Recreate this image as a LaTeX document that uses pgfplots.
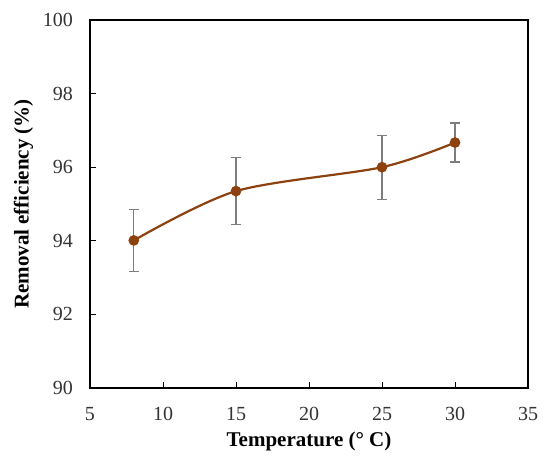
\documentclass[border=0pt]{standalone}
\usepackage{fontspec}
\setmainfont{Liberation Serif}
\usepackage{pgfplots}
\pgfplotsset{compat=1.18}
\definecolor{brn}{RGB}{140,65,15}
\definecolor{ebar}{RGB}{125,125,125}
\begin{document}
\begin{tikzpicture}
\begin{axis}[
  at={(0,0)}, anchor=south west,
  scale only axis,
  width=219pt, height=184pt,
  xmin=5, xmax=35, ymin=90, ymax=100,
  xtick={5,10,...,35}, ytick={90,92,...,100},
  xtick pos=bottom, ytick pos=left,
  tick align=inside,
  major tick length=3pt,
  tick style={black, line width=0.5pt},
  axis line style={black, line width=1.1pt},
  /pgf/number format/assume math mode=true,
  tick label style={font=\fontsize{10}{12}\selectfont, text=black!80},
  xticklabel style={yshift=-6pt},
  yticklabel style={xshift=-5pt},
  xlabel={\textbf{Temperature (° C)}},
  ylabel={\textbf{Removal efficiency (\%)}},
  label style={font=\fontsize{10.5}{12}\selectfont},
  xlabel style={yshift=1pt},
  ylabel style={yshift=-2pt},
]
\addplot[color=brn, line width=1.1pt, smooth, mark=*, mark size=2.1pt,
  mark options={fill=brn, draw=brn},
  error bars/.cd, y dir=both, y explicit,
  error bar style={ebar, line width=0.6pt},
  error mark options={rotate=90, mark size=2.6pt, ebar, line width=0.6pt}]
  coordinates {
  (8,94.01) +- (0,0.845)
  (15,95.35) +- (0,0.91)
  (25,96.00) +- (0,0.87)
  (30,96.67) +- (0,0.53)
  };
\end{axis}
\useasboundingbox (-45pt,-38pt) rectangle (230pt,194pt);
\end{tikzpicture}
\end{document}
